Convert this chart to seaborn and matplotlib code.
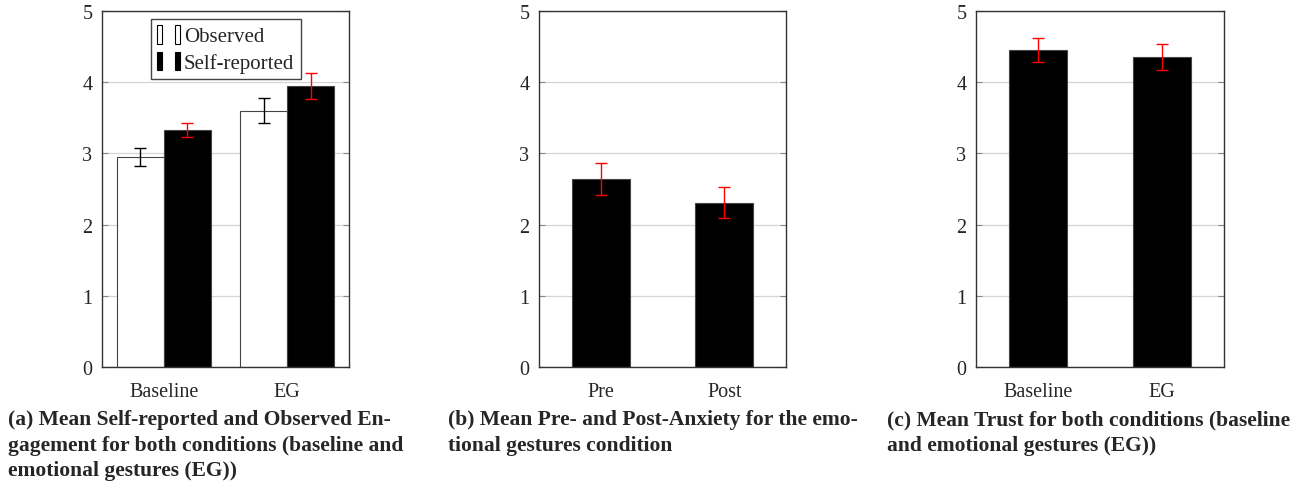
import pandas as pd
import matplotlib
matplotlib.use("Agg")
import matplotlib.pyplot as plt
import seaborn as sns
from matplotlib.patches import Patch
from matplotlib.legend_handler import HandlerTuple

# (a) engagement
conditions = ["Baseline", "EG"]
observed = [2.95, 3.60]
observed_err = [0.13, 0.18]
self_reported = [3.33, 3.95]
self_reported_err = [0.095, 0.18]

# (b) anxiety
phases = ["Pre", "Post"]
anxiety = [2.64, 2.31]
anxiety_err = [0.22, 0.22]

# (c) trust
trust = [4.45, 4.35]
trust_err = [0.17, 0.18]

captions = [
    "(a) Mean Self-reported and Observed En-\ngagement for both conditions (baseline and\nemotional gestures (EG))",
    "(b) Mean Pre- and Post-Anxiety for the emo-\ntional gestures condition",
    "(c) Mean Trust for both conditions (baseline\nand emotional gestures (EG))",
]

sns.set_style("white")
plt.rcParams["font.family"] = ["Liberation Serif", "DejaVu Serif"]

EDGE = "#444444"


def style_axis(ax):
    ax.set_ylim(0, 5)
    ax.set_xlim(-0.5, 1.5)
    ax.set_yticks([0, 1, 2, 3, 4, 5])
    ax.set_xlabel("")
    ax.set_ylabel("")
    ax.yaxis.grid(True, color="#d4d4d4", linewidth=0.9)
    ax.set_axisbelow(True)
    ax.tick_params(axis="y", direction="in", length=4, color="#888888",
                   left=True, right=True, labelsize=14.5, pad=7)
    ax.tick_params(axis="x", length=0, labelsize=14.5, pad=11)
    for s in ax.spines.values():
        s.set_visible(True)
        s.set_color("#333333")
        s.set_linewidth(1.0)


def add_err(ax, bars, means, errs, color):
    xs = [b.get_x() + b.get_width() / 2 for b in bars]
    ax.errorbar(xs, means, yerr=errs, fmt="none", ecolor=color,
                elinewidth=1.0, capsize=4, capthick=1.0, zorder=5)


fig = plt.figure(figsize=(12.99, 5.02), dpi=100)
W, H = 1299, 502
boxes = [(102, 349), (539, 786), (976, 1224)]
axes = [fig.add_axes([l / W, (H - 368) / H, (r - l) / W, 356 / H]) for l, r in boxes]

# panel a
df_a = pd.DataFrame({
    "condition": conditions * 2,
    "value": observed + self_reported,
    "kind": ["Observed"] * 2 + ["Self-reported"] * 2,
})
ax = axes[0]
sns.barplot(data=df_a, x="condition", y="value", hue="kind", ax=ax,
            palette=["white", "black"], width=0.76, gap=0, errorbar=None,
            edgecolor=EDGE, linewidth=0.8, legend=False)
style_axis(ax)
bars = [p for p in ax.patches]
add_err(ax, bars[:2], observed, observed_err, "black")
add_err(ax, bars[2:4], self_reported, self_reported_err, "red")
p_obs = Patch(facecolor="white", edgecolor="black", linewidth=0.8)
p_self = Patch(facecolor="black", edgecolor="black", linewidth=0.8)
ax.legend([(p_obs, p_obs), (p_self, p_self)], ["Observed", "Self-reported"],
          handler_map={tuple: HandlerTuple(ndivide=None, pad=0.6)},
          loc="upper left", bbox_to_anchor=(0.18, 0.99), fontsize=15,
          handlelength=1.1, handleheight=1.0, handletextpad=0.2,
          fancybox=False, framealpha=1, edgecolor=EDGE,
          borderpad=0.3, labelspacing=0.25, borderaxespad=0.2)

# panel b
df_b = pd.DataFrame({"phase": phases, "value": anxiety})
ax = axes[1]
sns.barplot(data=df_b, x="phase", y="value", ax=ax, color="black",
            width=0.47, errorbar=None, edgecolor=EDGE, linewidth=0.8)
style_axis(ax)
add_err(ax, ax.patches, anxiety, anxiety_err, "red")

# panel c
df_c = pd.DataFrame({"condition": conditions, "value": trust})
ax = axes[2]
sns.barplot(data=df_c, x="condition", y="value", ax=ax, color="black",
            width=0.47, errorbar=None, edgecolor=EDGE, linewidth=0.8)
style_axis(ax)
add_err(ax, ax.patches, trust, trust_err, "red")

for x0, cap in zip([8, 448, 887], captions):
    fig.text(x0 / W, 1 - 410 / H, cap, ha="left", va="top", fontsize=15.5,
             fontweight="bold", linespacing=1.38)

fig.savefig("out.png", dpi=100)
